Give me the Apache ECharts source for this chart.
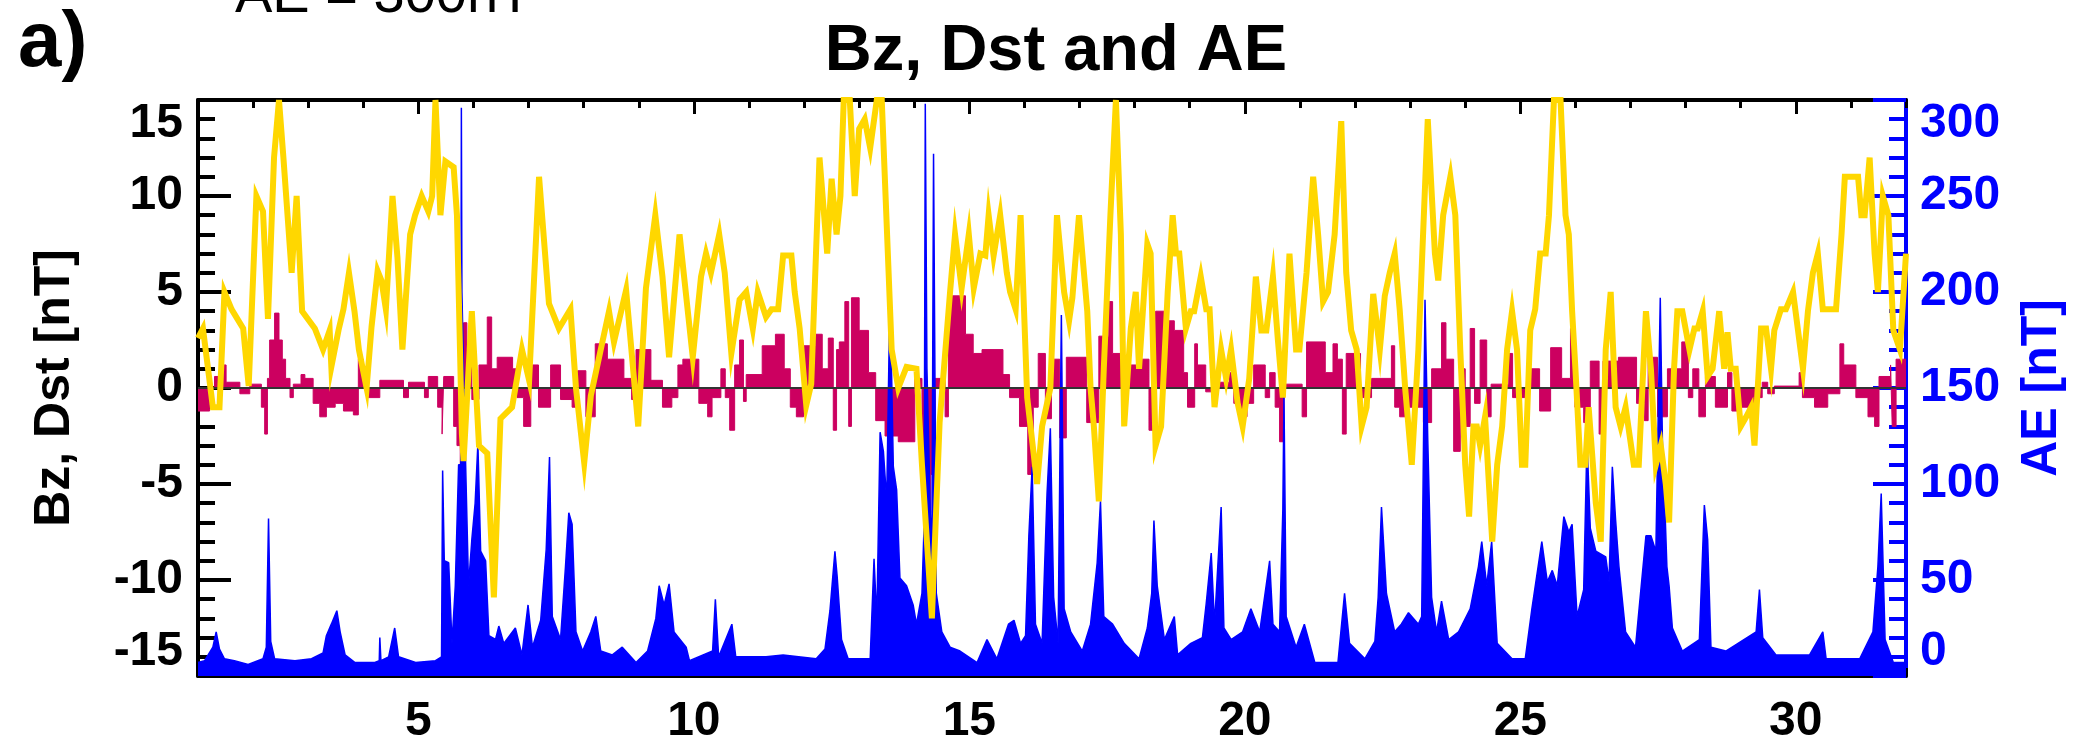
<!DOCTYPE html>
<html>
<head>
<meta charset="utf-8">
<script src="https://cdn.jsdelivr.net/npm/echarts@6/dist/echarts.min.js"></script>
<style>
  html, body { margin: 0; padding: 0; background: #ffffff; }
  #chart { width: 2075px; height: 748px; }
</style>
</head>
<body>
<div id="chart"></div>
<script>
// Day of month axis and the labelled days
const dayRange = [1, 32];
const dayLabels = [5, 10, 15, 20, 25, 30];
// Day where the AE frame (blue) takes over the top and bottom borders
const aeFrameStart = 31.4;
// Tick labels of the two vertical axes
const bzDstTicks = [-15, -10, -5, 0, 5, 10, 15];
const aeTicks = [0, 50, 100, 150, 200, 250, 300];

// Dst index [nT]
const dstDay = [
  1.00,1.09,1.27,1.39,1.48,1.61,1.82,1.92,2.06,2.18,2.27,2.38,2.47,2.55,2.70,2.79,2.89,3.12,3.27,3.39,
  3.42,3.55,3.64,3.74,3.84,3.92,4.06,4.15,4.26,4.33,4.41,4.53,4.62,4.71,4.85,4.94,5.06,5.18,5.25,5.31,
  5.40,5.49,5.64,5.70,5.79,5.82,5.97,6.10,6.25,6.37,6.49,6.70,6.88,7.01,7.19,7.37,7.55,7.76,7.86,8.01,
  8.13,8.46,8.55,8.77,8.99,9.13,9.30,9.43,9.55,9.74,9.98,10.13,10.22,10.31,10.46,10.56,10.68,10.83,10.95,11.07,
  11.16,11.31,11.41,11.53,11.62,11.77,11.83,11.92,12.04,12.13,12.28,12.42,12.50,12.59,12.66,12.72,12.83,12.92,13.00,13.10,
  13.20,13.32,13.41,13.59,13.71,13.86,14.04,14.14,14.32,14.46,14.65,14.74,14.86,14.99,15.08,15.20,15.29,15.35,15.44,15.56,
  15.68,15.74,15.84,15.93,16.05,16.23,16.32,16.47,16.59,16.72,16.81,16.87,16.99,17.14,17.20,17.26,17.35,17.44,17.56,17.66,
  17.75,17.81,17.93,18.02,18.08,18.23,18.29,18.38,18.48,18.60,18.69,18.75,18.81,18.93,19.02,19.08,19.20,19.30,19.36,19.45,
  19.57,19.66,19.75,19.87,19.96,20.08,20.20,20.30,20.39,20.51,20.60,20.69,20.81,20.93,20.99,21.12,21.24,21.33,21.42,21.51,
  21.63,21.75,21.84,21.93,22.03,22.12,22.21,22.33,22.45,22.54,22.63,22.72,22.81,22.91,23.03,23.15,23.32,23.45,23.51,23.60,
  23.73,23.82,23.91,24.00,24.07,24.15,24.21,24.27,24.36,24.49,24.58,24.67,24.76,24.85,24.94,25.03,25.09,25.18,25.27,25.36,
  25.46,25.52,25.61,25.73,25.82,25.88,25.94,26.00,26.09,26.18,26.24,26.37,26.46,26.55,26.64,26.73,26.82,26.91,27.06,27.15,
  27.28,27.37,27.46,27.55,27.64,27.70,27.79,27.85,27.94,28.07,28.16,28.22,28.31,28.40,28.49,28.61,28.70,28.76,28.82,28.91,
  29.00,29.10,29.19,29.25,29.37,29.46,29.55,29.61,29.73,29.82,29.95,30.04,30.13,30.22,30.31,30.40,30.49,30.73,30.83,30.89,
  31.13,31.19,31.25,31.34,31.43,31.49,31.58,31.68,31.77,31.89,32.00
];
const dstVal = [
  2.6,3.1,-1.0,-1.0,5.0,4.1,3.1,0.1,10,9.2,3.6,12,15,12,6,10,4,3.1,2.0,3.0,
  1.1,3.0,4.1,6.0,4.0,2.0,0,3.2,6.1,5.6,4.1,10,6.8,2.0,8.0,9.0,10,9.2,10,15,
  9.0,11.8,11.5,9.0,-2.4,-3.8,4.0,-3.0,-3.4,-10.9,-1.6,-1.0,2.0,0.4,11.0,4.4,3.1,4.1,0,-3.9,
  -0.4,4.0,2.4,5.1,-2.0,5.2,9.0,5.8,1.6,8.0,1.6,5.8,7.0,6.0,8.0,6.0,1.8,4.6,5.0,3.1,
  5.0,3.7,4.1,4.1,6.9,6.9,5.0,3.1,-0.9,0.2,12.0,7.0,10.9,8.0,10,15,15,10,13.5,14.0,
  12.5,15,15,2.0,0,1.1,1.0,-4.0,-12,-1.8,5.0,8.0,5.2,8.0,5.2,7.0,6.9,9.0,6.9,9.0,
  6.0,5.0,4.1,9.0,-0.5,-5.0,-2.0,0,9.0,5.0,3.5,4.7,9.0,4.0,0,-2.0,-5.9,1.0,9.0,15,
  8.0,-2.0,3.1,5.0,1.0,7.5,7.0,-3.0,-2.0,5.0,9.0,7.0,7.0,3.1,4.0,4.0,5.8,4.1,4.1,-1.0,
  2.0,0.5,2.0,-0.8,-2.0,0.5,5.8,3.0,3.0,5.8,2.5,-0.5,7.0,2.0,2.0,6.0,11.0,8.0,4.5,5.0,
  8.0,13.9,6.0,3.0,2.0,-2.0,-1.0,4.9,2.0,4.8,6.0,7.0,4.1,0,-4.0,2.0,14.0,7.0,5.6,9.0,
  11.0,9.0,2.0,-4.0,-6.7,-2.0,-2.0,-3.0,-1.5,-8.0,-4.0,-2.0,2.0,4.0,2.0,-4.0,-4.0,3.0,4.1,7.0,
  7.0,9.0,15,15,9.0,8.0,4.0,1.0,-4.0,-4.0,-1.0,-6.0,-8.0,2.0,5.0,-1.0,-2.0,-1.0,-4.0,-4.0,
  4.0,1.0,-4.0,-3.0,-5.0,-7.0,1.0,4.0,4.0,2.0,3.1,3.1,4.0,0.6,1.0,4.0,1.0,2.9,1.0,1.0,
  -2.0,-1.5,-1.0,-3.0,3.1,3.1,1.0,3.0,4.1,4.1,5.0,3.0,1.0,4.0,6.0,7.0,4.1,4.1,8.0,11.0,
  11.0,9.0,9.0,12.0,7.0,5.0,10.0,9.0,3.0,2.0,7.0
];

// IMF Bz [nT], each value held from its day until the next one
const bzDay = [
  1.00,1.21,1.30,1.45,1.51,1.76,1.94,2.15,2.21,2.26,2.30,2.39,2.47,2.53,2.59,2.67,2.73,2.87,2.94,3.09,
  3.21,3.33,3.49,3.64,3.82,3.91,4.00,4.09,4.30,4.73,4.82,5.11,5.18,5.35,5.43,
  5.46,5.64,5.70,5.76,5.82,5.88,5.97,6.10,6.25,6.33,6.43,6.71,6.79,6.91,7.04,7.18,7.40,7.58,7.79,7.89,
  8.04,8.21,8.43,8.73,8.87,8.95,9.22,9.43,9.60,9.71,
  9.80,10.09,10.25,10.33,10.49,10.57,10.65,10.74,10.83,10.90,10.95,11.24,11.48,11.64,11.75,11.86,11.99,12.21,12.33,12.44,
  12.53,12.59,12.64,12.74,12.81,12.86,13.00,13.17,13.30,13.47,13.71,14.01,14.14,14.20,14.30,
  14.38,14.56,14.62,14.93,15.07,15.23,15.61,15.73,15.91,16.06,16.16,16.25,16.38,16.49,16.64,16.76,17.13,17.35,17.53,17.60,
  17.80,18.04,18.26,18.38,18.60,
  18.72,18.89,18.96,19.09,19.14,19.29,19.51,19.72,19.80,19.93,20.04,20.16,20.37,20.45,20.55,20.63,20.71,21.04,21.12,21.46,
  21.60,21.68,21.77,21.84,22.10,22.30,22.66,22.72,22.81,22.97,
  23.24,23.39,23.57,23.65,23.79,23.91,24.00,24.09,24.17,24.27,24.39,24.47,24.79,24.86,25.16,25.35,25.55,25.75,25.91,25.99,
  26.15,26.27,26.43,26.50,26.78,27.11,27.25,27.32,27.49,
  27.67,27.93,28.05,28.13,28.24,28.36,28.54,28.76,28.84,28.98,29.25,29.39,29.49,29.61,30.06,30.12,30.34,30.58,30.80,30.87,
  31.09,31.31,31.43,31.51,31.72,31.75,31.82,32.00
];
const bzVal = [
  -1.2,0,0.6,1.2,0.3,-0.3,0.2,-1.0,-2.4,0.5,2.5,3.9,2.5,1.5,0.5,-0.5,0.2,0.7,0.5,-0.8,
  -1.5,-1.0,-0.8,-1.2,-1.4,1.5,0.8,-0.5,0.4,-0.5,0.3,-0.5,0.6,-1.0,-2.4,
  0.6,-2.0,-3.0,-5.0,3.4,2.0,-0.6,1.2,3.7,1.0,1.6,1.0,-0.5,-2.0,1.2,-1.0,1.2,-0.6,-1.0,0.9,
  -1.5,2.3,1.5,0.5,-0.6,2.0,0.4,-1.0,-0.5,1.2,
  1.5,-0.8,-1.5,-0.5,1.0,-0.5,-2.2,1.2,2.5,-0.7,0.7,2.2,2.8,1.0,-1.0,-1.5,2.2,2.8,1.0,2.6,
  -2.2,2.0,2.4,4.5,-2.0,4.7,3.0,0.8,-1.7,-2.5,-2.8,0.5,-5.0,-6.5,-4.5,
  0.5,-1.5,4.8,2.8,1.8,2.0,0.7,-0.5,-2.0,-4.5,-1.0,1.8,-1.6,1.5,-2.6,1.6,-1.8,2.7,4.5,1.8,
  1.2,1.5,-2.2,4.0,3.5,
  3.0,0.8,-1.0,2.3,1.2,-0.2,0.3,0.8,-0.8,-1.5,-0.8,1.2,-0.5,0.8,-1.0,-2.8,0.2,-1.5,2.4,0.8,
  2.3,1.5,-2.4,1.8,-0.5,0.5,2.2,-1.0,-1.5,-1.0,
  -1.8,1.0,3.4,1.5,-3.3,1.0,-2.0,3.1,-0.8,2.5,-1.5,0.2,1.8,-0.5,1.0,-1.2,2.1,0.5,3.1,-1.0,
  -1.8,1.4,-2.4,1.4,1.6,-0.8,-1.7,1.6,-1.5,
  1.0,2.4,-0.5,1.0,-1.5,0.6,-1.0,0.8,-1.2,-1.0,-0.5,0.3,-0.3,0.1,0.8,-0.5,-1.0,-0.3,2.3,1.2,
  -0.5,-1.5,-2.0,0.6,1.2,-2.0,1.5,1.5
];

// AE index [nT]
const aeDay = [
  1.00,1.12,1.27,1.33,1.39,1.48,1.66,1.91,2.18,2.24,2.28,2.32,2.39,2.76,3.06,3.27,3.33,3.42,3.52,3.58,
  3.67,3.85,4.21,4.29,4.30,4.32,4.46,4.57,4.64,4.95,5.31,5.42,5.44,5.47,5.55,5.61,5.67,5.73,5.77,5.78,
  5.79,5.82,5.85,5.91,5.97,6.03,6.08,6.13,6.22,6.28,6.40,6.46,6.55,6.76,6.88,6.99,7.07,7.22,7.32,7.38,
  7.43,7.58,7.67,7.73,7.79,7.86,7.98,8.13,8.22,8.31,8.52,8.70,8.95,9.16,9.31,9.37,9.46,9.55,9.64,9.86,
  9.92,10.34,10.39,10.45,10.69,10.76,11.31,11.62,12.22,12.38,12.47,12.56,12.60,12.68,12.80,13.20,13.27,13.32,13.38,13.44,
  13.50,13.56,13.62,13.68,13.74,13.86,13.98,14.04,14.14,14.18,14.20,14.23,14.29,14.32,14.35,14.40,14.50,14.65,14.83,15.14,
  15.32,15.50,15.71,15.81,15.93,16.02,16.08,16.14,16.20,16.32,16.41,16.47,16.53,16.61,16.67,16.72,16.84,17.05,17.20,17.32,
  17.38,17.44,17.60,17.81,18.08,18.23,18.31,18.35,18.41,18.54,18.72,18.78,19.02,19.23,19.30,19.39,19.45,19.57,19.62,19.75,
  19.96,20.11,20.27,20.45,20.51,20.63,20.69,20.71,20.75,20.93,21.08,21.27,21.69,21.81,21.90,22.18,22.36,22.42,22.48,22.57,
  22.72,22.84,22.97,23.15,23.21,23.27,23.32,23.39,23.48,23.57,23.70,23.88,24.09,24.24,24.30,24.39,24.48,24.58,24.85,25.09,
  25.21,25.39,25.49,25.58,25.67,25.79,25.88,25.94,26.03,26.15,26.21,26.27,26.37,26.55,26.61,26.67,26.73,26.79,26.91,27.09,
  27.28,27.37,27.46,27.54,27.58,27.62,27.66,27.70,27.76,27.94,28.25,28.34,28.40,28.46,28.73,29.28,29.34,29.40,29.64,30.25,
  30.49,30.55,31.16,31.40,31.49,31.55,31.62,31.77,32.00
];
const aeVal = [
  7,8,15,23,14,9,8,6,9,15,82,18,9,8,9,12,21,27,34,23,
  11,7,7,8,20,8,10,25,10,7,8,10,107,60,59,17,47,110,110,296,
  200,200,119,47,71,90,121,65,60,21,19,26,17,25,11,37,15,29,66,114,
  31,19,57,85,79,23,13,23,31,13,11,15,7,13,30,47,37,48,23,15,
  8,13,40,10,27,10,10,11,9,14,34,65,52,19,9,9,61,29,127,117,
  91,202,109,97,51,47,37,27,43,80,298,160,87,60,272,43,23,15,13,7,
  19,9,27,29,17,21,73,109,27,17,95,129,41,17,188,35,23,13,27,59,
  91,31,27,17,9,25,43,81,47,19,31,11,17,20,38,64,27,88,25,19,
  23,35,23,60,27,23,87,146,31,15,27,7,7,43,17,9,18,41,88,43,
  23,27,33,27,31,196,123,41,23,39,19,23,35,57,70,47,70,17,9,9,
  35,70,49,55,47,83,75,79,31,45,123,77,65,62,49,109,81,57,23,15,
  73,73,65,197,120,91,57,47,25,13,19,89,71,15,13,23,45,20,11,11,
  23,9,9,23,57,95,19,7,7
];

const pairs = (xs, ys) => xs.map((x, i) => [x, ys[i]]);

const FONT = "'Liberation Sans', Arial, Helvetica, sans-serif";
const BLACK = '#000000';
const BLUE = '#0000ff';
const BZ_COLOR = '#cc0060';
const DST_COLOR = '#ffd700';

const chart = echarts.init(document.getElementById('chart'), null, { renderer: 'canvas' });

const labelStyle = { fontFamily: FONT, fontWeight: 'bold', fontSize: 48 };

function dayAxis(position, showLabels) {
  return {
    type: 'value', position: position, gridIndex: 0,
    min: dayRange[0], max: dayRange[1], interval: 1,
    axisLine: { show: true, onZero: false, lineStyle: { color: BLACK, width: 4 } },
    axisTick: { show: true, inside: true, length: 8, lineStyle: { color: BLACK, width: 3 } },
    axisLabel: showLabels
      ? Object.assign({ show: true, color: BLACK, margin: 22, customValues: dayLabels }, labelStyle)
      : { show: false },
    splitLine: { show: false }
  };
}
function dayMajorTicks(position) {
  return {
    type: 'value', position: position, gridIndex: 0,
    min: dayRange[0], max: dayRange[1],
    axisLine: { show: false, onZero: false },
    axisTick: { show: true, inside: true, length: 14, customValues: dayLabels, lineStyle: { color: BLACK, width: 3 } },
    axisLabel: { show: false },
    splitLine: { show: false }
  };
}

const bzStep = bzDstTicks[1] - bzDstTicks[0];
const aeStep = aeTicks[1] - aeTicks[0];
const aeMin = aeTicks[0];
const aeMax = aeTicks[aeTicks.length - 1];

const option = {
  animation: false,
  backgroundColor: '#ffffff',
  grid: { left: 198, right: 162, top: 100, bottom: 72, containLabel: false },
  xAxis: [
    dayAxis('bottom', true),
    dayMajorTicks('bottom'),
    dayAxis('top', false),
    dayMajorTicks('top')
  ],
  yAxis: [
    {
      type: 'value', position: 'left',
      min: bzDstTicks[0], max: bzDstTicks[bzDstTicks.length - 1], interval: bzStep,
      name: 'Bz, Dst [nT]', nameLocation: 'middle', nameGap: 118, nameRotate: 90,
      nameTextStyle: { color: BLACK, fontFamily: FONT, fontWeight: 'bold', fontSize: 50 },
      axisLine: { show: true, onZero: false, lineStyle: { color: BLACK, width: 4 } },
      axisTick: { show: true, inside: true, length: 33, lineStyle: { color: BLACK, width: 4 } },
      minorTick: { show: true, splitNumber: 5, length: 17, lineStyle: { color: BLACK, width: 4 } },
      axisLabel: Object.assign({ color: BLACK, margin: 15,
        verticalAlignMaxLabel: 'top', verticalAlignMinLabel: 'bottom' }, labelStyle),
      splitLine: { show: false }, minorSplitLine: { show: false }
    },
    {
      type: 'value', position: 'right',
      min: aeMin, max: aeMax, interval: aeStep,
      name: 'AE [nT]', nameLocation: 'middle', nameGap: 111, nameRotate: 90,
      nameTextStyle: { color: BLUE, fontFamily: FONT, fontWeight: 'bold', fontSize: 50 },
      axisLine: { show: true, onZero: false, lineStyle: { color: BLUE, width: 4 } },
      axisTick: { show: true, inside: true, length: 33, lineStyle: { color: BLUE, width: 4 } },
      minorTick: { show: true, splitNumber: 5, length: 17, lineStyle: { color: BLUE, width: 4 } },
      axisLabel: Object.assign({ color: BLUE, margin: 14,
        verticalAlignMaxLabel: 'top', verticalAlignMinLabel: 'bottom' }, labelStyle),
      splitLine: { show: false }, minorSplitLine: { show: false }
    }
  ],
  graphic: [
    { type: 'text', x: 1056, y: 52, z: 100,
      style: { text: 'Bz, Dst and AE', fill: BLACK, font: 'bold 65px ' + FONT, textAlign: 'center', textVerticalAlign: 'middle' } },
    { type: 'text', x: 18, y: 44, z: 100,
      style: { text: 'a)', fill: BLACK, font: 'bold 78px ' + FONT, textAlign: 'left', textVerticalAlign: 'middle' } },
    { type: 'text', x: 235, y: -3, z: 100,
      style: { text: 'AE = 300nT', fill: BLACK, font: '56px ' + FONT, textAlign: 'left', textVerticalAlign: 'middle' } }
  ],
  series: [
    {
      name: 'Bz', type: 'line', xAxisIndex: 0, yAxisIndex: 0, z: 2,
      data: pairs(bzDay, bzVal), step: 'end', showSymbol: false, symbol: 'none',
      lineStyle: { color: BZ_COLOR, width: 1 },
      areaStyle: { color: BZ_COLOR, opacity: 1, origin: 'auto' },
      silent: true
    },
    {
      name: 'AE', type: 'line', xAxisIndex: 0, yAxisIndex: 1, z: 3,
      data: pairs(aeDay, aeVal), showSymbol: false, symbol: 'none',
      lineStyle: { color: BLUE, width: 1.5 },
      areaStyle: { color: BLUE, opacity: 1, origin: 'start' },
      silent: true
    },
    {
      name: 'zero', type: 'line', xAxisIndex: 0, yAxisIndex: 0, z: 4,
      data: [[dayRange[0], 0], [dayRange[1], 0]], showSymbol: false, symbol: 'none',
      lineStyle: { color: '#333333', width: 2 }, silent: true
    },
    {
      name: 'Dst', type: 'line', xAxisIndex: 0, yAxisIndex: 0, z: 5,
      data: pairs(dstDay, dstVal), showSymbol: false, symbol: 'none',
      lineStyle: { color: DST_COLOR, width: 6, join: 'miter' },
      silent: true
    },
    // Blue stretch of the frame belonging to the AE axis
    {
      name: 'aeFrameTop', type: 'line', xAxisIndex: 0, yAxisIndex: 1, z: 6, clip: false,
      data: [[aeFrameStart, aeMax], [dayRange[1], aeMax]], showSymbol: false, symbol: 'none',
      lineStyle: { color: BLUE, width: 4 }, silent: true
    },
    {
      name: 'aeFrameBottom', type: 'line', xAxisIndex: 0, yAxisIndex: 1, z: 6, clip: false,
      data: [[aeFrameStart, aeMin], [dayRange[1], aeMin]], showSymbol: false, symbol: 'none',
      lineStyle: { color: BLUE, width: 4 }, silent: true
    }
  ]
};

chart.setOption(option);
</script>
</body>
</html>
